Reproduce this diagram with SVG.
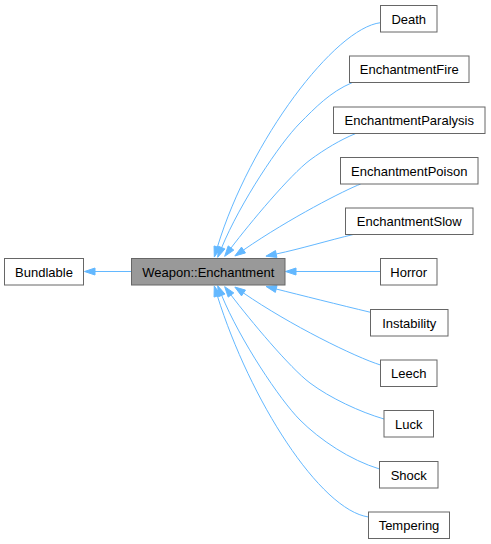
<svg xmlns="http://www.w3.org/2000/svg" width="491" height="544" viewBox="0 0 491 544">
<style>
.n rect{fill:#ffffff;stroke:#666666;stroke-width:1}
.n.focus rect{fill:#999999;stroke:#666666}
.n text{font-family:"Liberation Sans",Arial,sans-serif;font-size:13px;fill:#000000;text-anchor:middle}
.e path{fill:none;stroke:#63b8ff;stroke-width:1}
.e polygon{fill:#63b8ff;stroke:#63b8ff;stroke-width:1}
</style>
<rect x="0" y="0" width="491" height="544" fill="#ffffff"/>
<g id="edges" class="e">
<path d="M131,271.5 L95,271.5"/>
<polygon points="95,268 84.5,271.5 95,275"/>
<path d="M380.5,271.5 L296,271.5"/>
<polygon points="296,268 285.5,271.5 296,275"/>
<path d="M380.5,22.7 C335,28 250,140 217.4,247"/>
<polygon points="214.05,245.98 214.3,257.05 220.75,248.02"/>
<path d="M352,82.7 C330,92 315,108 300,123 C280,143 240,203 221.7,247.6"/>
<polygon points="218.46,246.27 217.71,257.31 224.94,248.93"/>
<path d="M355.7,133.5 C340,140 325,149 310,160 C290,175 250,223 231,248"/>
<polygon points="228.21,245.88 224.65,256.36 233.79,250.12"/>
<path d="M360.7,184 C345,190 290,218 243.5,250"/>
<polygon points="241.52,247.12 234.85,255.96 245.48,252.88"/>
<path d="M353.3,234.5 C330,240 300,249 276.2,254"/>
<polygon points="275.48,250.57 265.92,256.16 276.92,257.43"/>
<path d="M370.5,312.3 C340,305 300,295 276.2,289"/>
<polygon points="277.05,285.61 266.02,286.43 275.35,292.39"/>
<path d="M380.5,365 C355,357 290,325 243.5,293"/>
<polygon points="245.48,290.12 234.85,287.04 241.52,295.88"/>
<path d="M384,419 C360,412 330,398 310,383 C290,368 250,320 231,295"/>
<polygon points="233.79,292.88 224.65,286.64 228.21,297.12"/>
<path d="M379.5,469 C350,460 320,440 300,420 C280,400 240,340 221.7,295.4"/>
<polygon points="224.94,294.07 217.71,285.69 218.46,296.73"/>
<path d="M368.5,517 C320,510 250,400 217.4,296"/>
<polygon points="220.74,294.95 214.26,285.98 214.06,297.05"/>
</g>
<g id="Bundlable" class="n"><rect x="4.5" y="258.5" width="79" height="26.5"/><text x="44" y="276.5">Bundlable</text></g>
<g id="Weapon_Enchantment" class="n focus"><rect x="131.5" y="258.5" width="153.5" height="26.5"/><text x="208.25" y="276.5">Weapon::Enchantment</text></g>
<g id="Death" class="n"><rect x="380.5" y="5.5" width="56.5" height="26.5"/><text x="408.75" y="23.5">Death</text></g>
<g id="EnchantmentFire" class="n"><rect x="349.5" y="56" width="119.5" height="26.5"/><text x="409.25" y="74">EnchantmentFire</text></g>
<g id="EnchantmentParalysis" class="n"><rect x="333.5" y="107" width="151.5" height="26.5"/><text x="409.25" y="125">EnchantmentParalysis</text></g>
<g id="EnchantmentPoison" class="n"><rect x="340.5" y="157.5" width="137.5" height="26.5"/><text x="409.25" y="175.5">EnchantmentPoison</text></g>
<g id="EnchantmentSlow" class="n"><rect x="345.5" y="208" width="127.5" height="26.5"/><text x="409.25" y="226">EnchantmentSlow</text></g>
<g id="Horror" class="n"><rect x="380.5" y="258.5" width="56.5" height="26.5"/><text x="408.75" y="276.5">Horror</text></g>
<g id="Instability" class="n"><rect x="370.5" y="309.5" width="77.5" height="26.5"/><text x="409.25" y="327.5">Instability</text></g>
<g id="Leech" class="n"><rect x="380.5" y="360" width="56.5" height="26.5"/><text x="408.75" y="378">Leech</text></g>
<g id="Luck" class="n"><rect x="384" y="410.5" width="49.5" height="26.5"/><text x="408.75" y="428.5">Luck</text></g>
<g id="Shock" class="n"><rect x="379.5" y="461.5" width="58.5" height="26.5"/><text x="408.75" y="479.5">Shock</text></g>
<g id="Tempering" class="n"><rect x="368.5" y="512" width="81" height="26.5"/><text x="409" y="530">Tempering</text></g>
</svg>
